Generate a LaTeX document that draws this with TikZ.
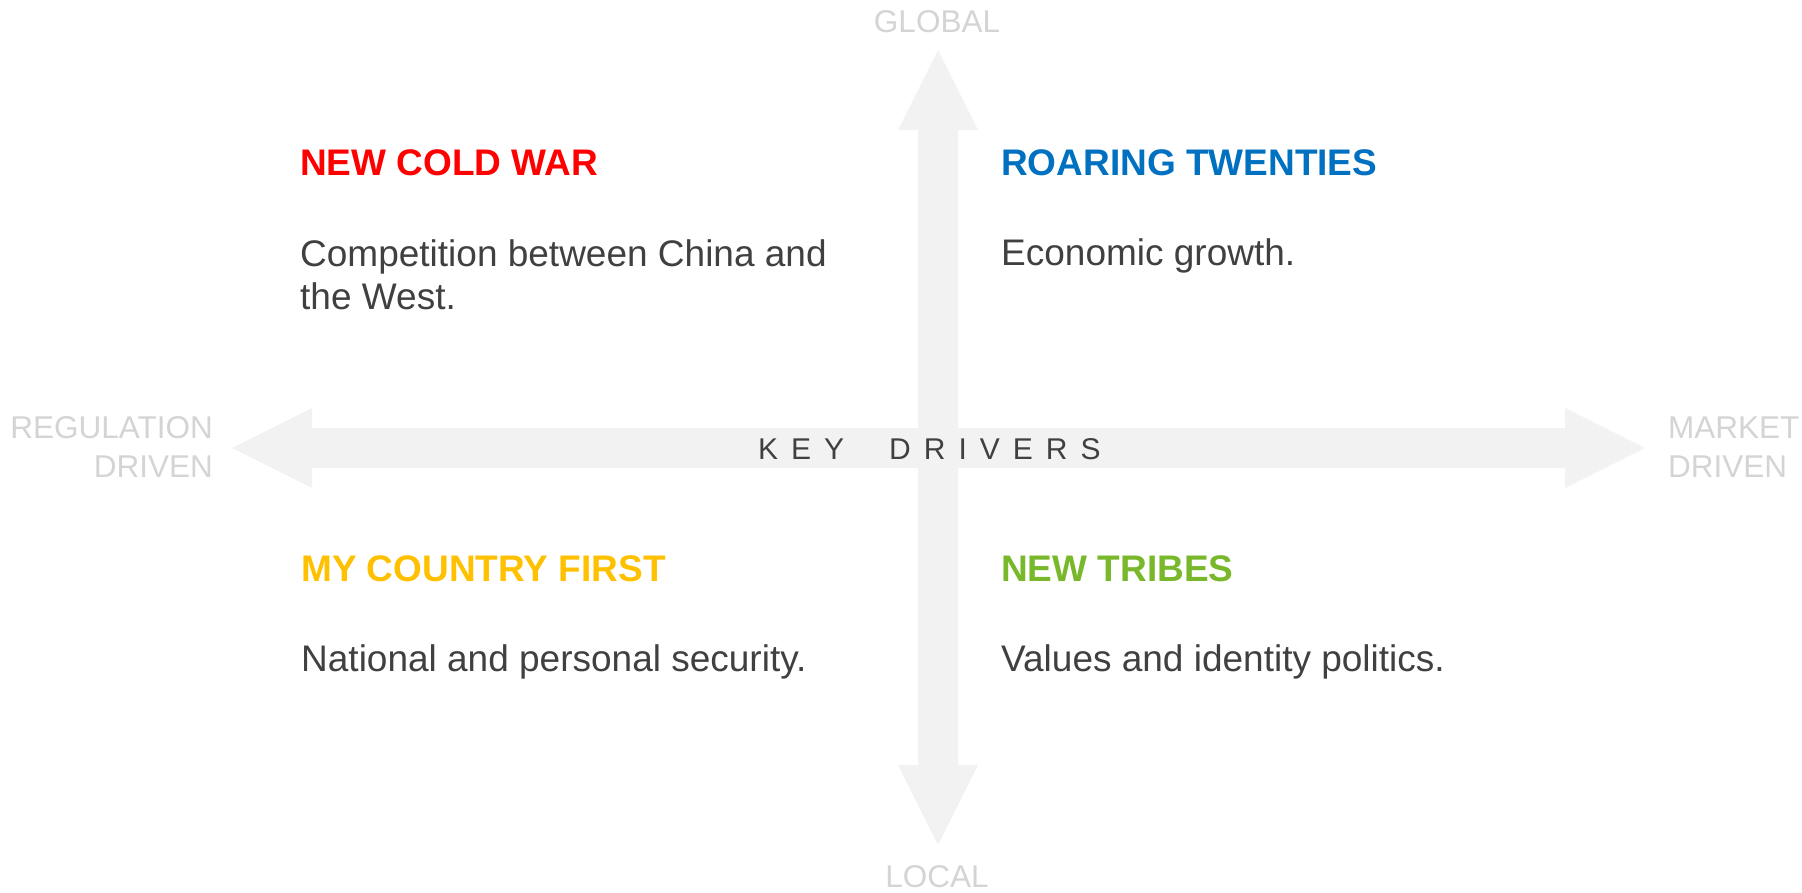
\documentclass[tikz,border=0pt]{standalone}
\usepackage{fontspec}
\setmainfont{Liberation Sans}
\definecolor{axisfill}{HTML}{F2F2F2}
\definecolor{polegray}{HTML}{D4D4D4}
\definecolor{bodygray}{HTML}{404040}
\definecolor{coldred}{HTML}{FF0000}
\definecolor{roarblue}{HTML}{0070C0}
\definecolor{firstgold}{HTML}{FFC000}
\definecolor{tribegreen}{HTML}{78B82A}
\newcommand{\lsp}{\kern13pt}
\newcommand{\wsp}{\kern45pt}
\begin{document}
\begin{tikzpicture}[x=1pt,y=-1pt,
  band/.style={fill=axisfill,draw=none},
  pole/.style={text=polegray,font=\fontsize{31.5}{39}\selectfont,inner sep=0pt},
  title/.style={font=\bfseries\fontsize{37}{43}\selectfont,anchor=base west,inner sep=0pt},
  body/.style={text=bodygray,font=\fontsize{37}{43}\selectfont,anchor=base west,align=left,inner sep=0pt}]

\useasboundingbox (0,0) rectangle (1802,892);

\fill [band] (232,448) -- (312,408) -- (312,428) -- (1565,428) -- (1565,408) -- (1645,448)
  -- (1565,488) -- (1565,468) -- (312,468) -- (312,488) -- cycle;
\fill [band] (938,50) -- (978,130) -- (958,130) -- (958,765) -- (978,765) -- (938,845)
  -- (898,765) -- (918,765) -- (918,130) -- (898,130) -- cycle;

\node [pole,anchor=base] (global) at (937,32) {GLOBAL};
\node [pole,anchor=base] (local) at (937,887) {LOCAL};
\node [pole,anchor=base east,align=right] (regulation) at (213,477) {REGULATION\\DRIVEN};
\node [pole,anchor=base west,align=left] (market) at (1668,477) {MARKET\\DRIVEN};

\node [text=bodygray,font=\fontsize{30}{36}\selectfont,anchor=base west,inner sep=0pt] (drivers)
  at (758,459) {K\lsp E\lsp Y\wsp D\lsp R\lsp I\lsp V\lsp E\lsp R\lsp S};

\node [title,text=coldred] (coldwar) at (300,175) {NEW COLD WAR};
\node [body] (coldwartext) at (300,309) {Competition between China and\\the West.};

\node [title,text=roarblue] (roaring) at (1001,175) {ROARING TWENTIES};
\node [body] (roaringtext) at (1001,265) {Economic growth.};

\node [title,text=firstgold] (first) at (301,581) {MY COUNTRY FIRST};
\node [body] (firsttext) at (301,671) {National and personal security.};

\node [title,text=tribegreen] (tribes) at (1001,581) {NEW TRIBES};
\node [body] (tribestext) at (1001,671) {Values and identity politics.};

\end{tikzpicture}
\end{document}
